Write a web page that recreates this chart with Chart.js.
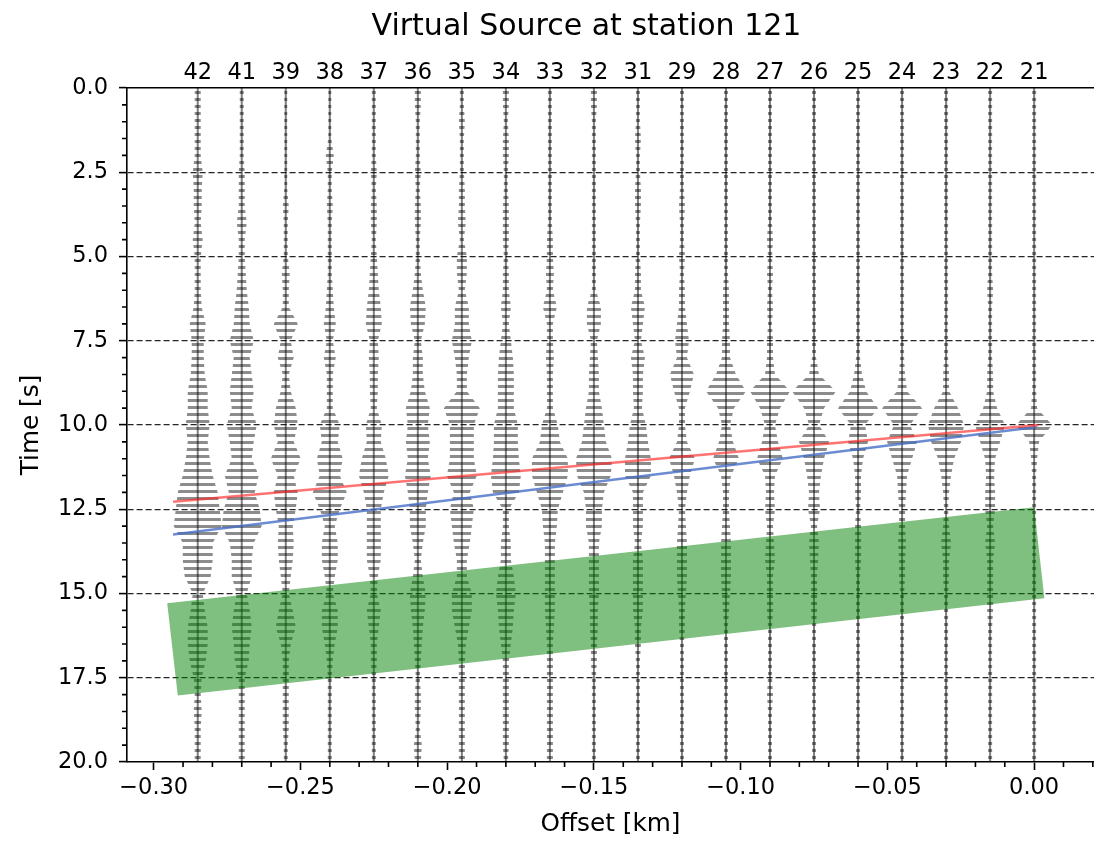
<!DOCTYPE html>
<html>
<head>
<meta charset="utf-8">
<script src="https://cdn.jsdelivr.net/npm/chart.js@4.4.1/dist/chart.umd.min.js"></script>
<style>
  html, body { margin: 0; padding: 0; background: #fff; }
</style>
</head>
<body>
<canvas id="gather" width="1094" height="842"></canvas>
<script>
// stations along the line, west -> east, and their offset from the virtual source (km)
const stations = [42, 41, 39, 38, 37, 36, 35, 34, 33, 32, 31, 29, 28, 27, 26, 25, 24, 23, 22, 21];
const traceOffsets = [-0.285, -0.270, -0.255, -0.240, -0.225, -0.210, -0.195, -0.180, -0.165, -0.150,
                      -0.135, -0.120, -0.105, -0.090, -0.075, -0.060, -0.045, -0.030, -0.015, 0.000];

// time samples (s) of the trace envelopes
const times = [0, 0.5, 1, 1.5, 2, 2.5, 3, 3.5, 4, 4.5, 5, 5.5, 6, 6.5, 7, 7.5, 8, 8.5, 9, 9.5,
               10, 10.5, 11, 11.5, 12, 12.5, 13, 13.5, 14, 14.5, 15, 15.5, 16, 16.5, 17, 17.5, 18, 18.5, 19, 19.5, 20];

// wiggle envelope (half amplitude) of each trace
const amp42 = [3,3,3,3,3,5,4,4,3,5,3,3,3,4,8,6,6,7,10,10,12,10,12,15,20,22,24,15,15,13,5,7,10,10,8,4,3,4,3,3,3];
const amp41 = [2,2,2,2,2,3,3,3,5,3,3,4,5,7,8,12,8,10,12,10,15,12,10,17,13,18,20,12,10,10,5,8,10,8,7,3,3,3,3,3,3];
const amp39 = [1.5,1.5,1.5,1.5,1.5,1.5,1.5,3,2,2,2,4,3,3,12,5,8,3,5,10,12,8,15,8,12,10,7,8,7,5,3,7,10,5,3,3,3,3,3,2,2];
const amp38 = [1.5,1.5,1.5,1.5,4,2,2,3,2,2,2,2,3,4,6,3,6,3,3,3,10,8,13,10,17,10,5,8,8,5,3,8,8,5,3,2,2,2,2,2,2];
const amp37 = [2,2,2,2,2,3,2,3,3,2,3,4,5,7,8,4,5,4,4,3,8,7,12,15,10,7,7,7,7,4,3,7,5,3,3,2,2,2,2,2,2];
const amp36 = [3,3,2,2,2,3,2,3,3,2,2,3,5,8,7,3,5,5,7,12,10,12,10,13,10,8,8,5,3,5,8,7,5,4,3,2,3,3,2,4,3];
const amp35 = [2,2,3,2,2,2,3,3,4,2,5,5,3,7,7,10,7,5,5,18,12,12,12,15,8,12,10,8,5,5,10,10,7,4,3,3,3,3,3,3,3];
const amp34 = [3,3,2,3,3,2,2,3,3,3,2,3,3,5,3,5,7,8,8,8,12,12,13,15,13,3,3,5,5,8,10,8,7,5,3,3,3,3,3,3,2];
const amp33 = [2,2,2,2,2,2,2,2,2,3,3,4,3,7,3,3,4,3,3,3,8,10,18,18,13,8,7,5,5,5,5,5,4,3,3,3,3,3,3,3,3];
const amp32 = [3,3,2,2,2,2,2,2,2,2,2,2,2,7,7,3,4,5,5,8,10,12,18,17,10,8,8,5,5,5,5,4,4,3,3,2,2,2,2,2,2];
const amp31 = [2,2,2,3,2,2,3,3,2,2,2,3,3,7,5,3,7,5,5,4,8,10,13,13,5,5,5,3,5,5,5,5,3,3,2,2,2,2,2,2,2];
const amp29 = [2,2,2,2,2,2,2,3,2,2,3,2,3,3,5,7,5,12,8,3,3,5,13,8,5,3,4,5,5,5,4,3,3,2,2,2,2,2,2,2,2];
const amp28 = [2,2,2,2,2,2,2,2,2,2,2,2,3,3,3,4,4,10,20,8,4,7,13,5,3,3,4,5,5,5,4,3,2,2,2,2,2,2,2,2,2];
const amp27 = [2,2,2,2,2,2,2,2,2,3,2,3,2,3,2,3,3,5,20,10,5,8,13,5,4,5,3,4,5,3,3,3,2,2,2,2,3,2,2,2,2];
const amp26 = [2,2,2,2,2,2,2,2,2,2,2,2,2,2,2,2,2,5,22,10,5,15,10,7,5,6,3,5,4,3,3,3,2,2,2,2,2,2,2,2,2];
const amp25 = [2,2,2,2,2,2,2,2,2,2,2,2,2,2,2,2,2,4,8,20,7,10,5,3,3,2,3,3,3,2,2,2,2,2,2,2,2,2,2,2,2];
const amp24 = [2,2,2,2,2,2,2,2,2,2,2,2,2,2,2,2,2,3,5,20,8,15,10,5,4,3,3,4,3,3,2,2,2,2,2,2,2,2,2,2,2];
const amp23 = [2,2,2,2,2,2,2,2,2,2,2,2,2,2,2,2,2,3,3,12,18,15,8,5,3,2,3,5,3,3,2,2,2,2,2,2,2,2,2,2,2];
const amp22 = [2,2,2,2,2,2,2,2,2,2,2,2,3,2,2,2,2,3,3,7,15,10,5,4,5,5,3,5,3,3,3,3,2,2,2,2,2,2,2,2,2];
const amp21 = [2,2,2,2,2,2,2,2,2,2,2,2,2,2,2,2,2,2,2,3,18,5,3,2,2,2,2,2,2,2,2,2,2,2,2,2,2,2,2,2,2];

const traceAmps = [amp42, amp41, amp39, amp38, amp37, amp36, amp35, amp34, amp33, amp32,
                   amp31, amp29, amp28, amp27, amp26, amp25, amp24, amp23, amp22, amp21];

// picked arrivals and the analysis window
const redX = [-0.2934, 0.0015];
const redY = [12.28, 10.0];
const blueX = [-0.2934, 0.0009];
const blueY = [13.25, 10.06];
const windowX = [-0.2954, 0.0000, 0.0035, -0.2918];
const windowY = [15.29, 12.44, 15.14, 18.03];

// tick labels
const xTicks = [-0.30, -0.25, -0.20, -0.15, -0.10, -0.05, 0.00];
const yTicks = [0, 2.5, 5, 7.5, 10, 12.5, 15, 17.5, 20];

const GAIN = 0.00034; // km per envelope unit
const TITLE = 'Virtual Source at station 121';

Chart.defaults.font.family = "'DejaVu Sans', sans-serif";
Chart.defaults.color = '#000';

const tickFont = { size: 22.5 };
const labelFont = { size: 24.75 };

function kmLabel(v) {
    if (Math.abs(v) < 1e-9) return '0.00';
    return (v < 0 ? '\u2212' : '') + Math.abs(v).toFixed(2);
}

const ctx = document.getElementById('gather').getContext('2d');

// horizontal stripes so the envelopes read like wiggles
function stripes(color, period, on) {
    const c = document.createElement('canvas');
    c.width = 4;
    c.height = period;
    const g = c.getContext('2d');
    g.fillStyle = color;
    g.fillRect(0, 0, 4, on);
    return ctx.createPattern(c, 'repeat');
}
const wiggleFill = stripes('rgba(0,0,0,0.45)', 7, 3);

// each trace: a closed outline down the right side and back up the left side
const traceSets = traceOffsets.map((off, i) => {
    const amp = traceAmps[i];
    const right = times.map((t, k) => ({ x: off + amp[k] * GAIN, y: t }));
    const left = times.map((t, k) => ({ x: off - amp[k] * GAIN, y: t })).reverse();
    return {
        label: 'st' + stations[i],
        data: right.concat(left),
        showLine: true,
        fill: 'shape',
        backgroundColor: wiggleFill,
        borderWidth: 0,
        pointRadius: 0,
        order: 4
    };
});

// the zero line of each trace
const baseSets = traceOffsets.map((off, i) => ({
    label: 'base' + stations[i],
    data: [{ x: off, y: times[0] }, { x: off, y: times[times.length - 1] }],
    showLine: true,
    borderColor: 'rgba(0,0,0,0.5)',
    borderWidth: 2,
    pointRadius: 0,
    order: 3
}));

const windowPts = windowX.map((x, i) => ({ x: x, y: windowY[i] }));
windowPts.push({ x: windowX[0], y: windowY[0] });

const datasets = traceSets.concat(baseSets, [
    {
        label: 'window',
        data: windowPts,
        showLine: true,
        fill: 'shape',
        backgroundColor: 'rgba(0,128,0,0.5)',
        borderWidth: 0,
        pointRadius: 0,
        order: 2
    },
    {
        label: 'red',
        data: redX.map((x, i) => ({ x: x, y: redY[i] })),
        showLine: true,
        borderColor: 'rgba(255,40,40,0.65)',
        borderWidth: 2.5,
        pointRadius: 0,
        order: 1
    },
    {
        label: 'blue',
        data: blueX.map((x, i) => ({ x: x, y: blueY[i] })),
        showLine: true,
        borderColor: 'rgba(70,110,200,0.8)',
        borderWidth: 2.5,
        pointRadius: 0,
        order: 1
    }
]);

// minor ticks + title (matplotlib style)
const extras = {
    id: 'extras',
    afterDraw(chart) {
        const c = chart.ctx;
        const x = chart.scales.x;
        const y = chart.scales.y;
        c.save();
        c.strokeStyle = '#000';
        c.lineWidth = 1.6;
        c.beginPath();
        for (let v = 0.5; v < 20; v += 0.5) {
            if (Math.abs(v / 2.5 - Math.round(v / 2.5)) < 1e-6) continue;
            const py = y.getPixelForValue(v);
            c.moveTo(y.right - 5, py);
            c.lineTo(y.right, py);
        }
        for (let k = -30; k <= 2; k++) {
            if (k % 5 === 0) continue;
            const px = x.getPixelForValue(k / 100);
            if (px < x.left || px > x.right) continue;
            c.moveTo(px, x.top);
            c.lineTo(px, x.top + 5);
        }
        c.stroke();
        c.fillStyle = '#000';
        c.font = "30px 'DejaVu Sans'";
        c.textAlign = 'center';
        c.textBaseline = 'alphabetic';
        c.fillText(TITLE, 586.5, 35);
        c.restore();
    }
};

const chart = new Chart(ctx, {
    type: 'scatter',
    data: { datasets: datasets },
    options: {
        responsive: false,
        devicePixelRatio: 1,
        animation: false,
        layout: { padding: 0 },
        plugins: {
            legend: { display: false },
            tooltip: { enabled: false }
        },
        elements: { line: { tension: 0 } },
        scales: {
            x: {
                type: 'linear',
                position: 'bottom',
                min: -0.3091,
                max: 0.0204,
                afterBuildTicks: ax => { ax.ticks = xTicks.map(v => ({ value: v })); },
                afterFit: ax => { ax.height = 80; },
                ticks: { callback: v => kmLabel(v), font: tickFont, padding: 5, maxRotation: 0, autoSkip: false },
                grid: { drawOnChartArea: false, tickLength: 8, tickColor: '#000', tickWidth: 1.6 },
                border: { color: '#000', width: 1.6 },
                title: { display: true, text: 'Offset [km]', font: labelFont, padding: { top: 0, bottom: 3 } }
            },
            xTop: {
                type: 'linear',
                axis: 'x',
                position: 'top',
                min: -0.3091,
                max: 0.0204,
                afterBuildTicks: ax => { ax.ticks = traceOffsets.map(v => ({ value: v })); },
                afterFit: ax => { ax.height = 88; },
                ticks: { callback: (v, i) => String(stations[i]), font: tickFont, padding: 1, maxRotation: 0, autoSkip: false },
                grid: { display: false, drawTicks: false },
                border: { color: '#000', width: 1.6 }
            },
            y: {
                type: 'linear',
                position: 'left',
                reverse: true,
                min: 0,
                max: 20,
                afterBuildTicks: ax => { ax.ticks = yTicks.map(v => ({ value: v })); },
                afterFit: ax => { ax.width = 127; },
                ticks: { callback: v => v.toFixed(1), font: tickFont, padding: 11 },
                grid: {
                    color: c => (c.tick && (c.tick.value === 0 || c.tick.value === 20)) ? 'rgba(0,0,0,0)' : 'rgba(0,0,0,0.85)',
                    lineWidth: 1.2,
                    tickColor: '#000',
                    tickWidth: 1.6,
                    tickLength: 8
                },
                border: { color: '#000', width: 1.6, dash: [6, 3] },
                title: { display: true, text: 'Time [s]', font: labelFont, padding: { top: 17, bottom: 0 } }
            }
        }
    },
    plugins: [extras]
});
</script>
</body>
</html>
